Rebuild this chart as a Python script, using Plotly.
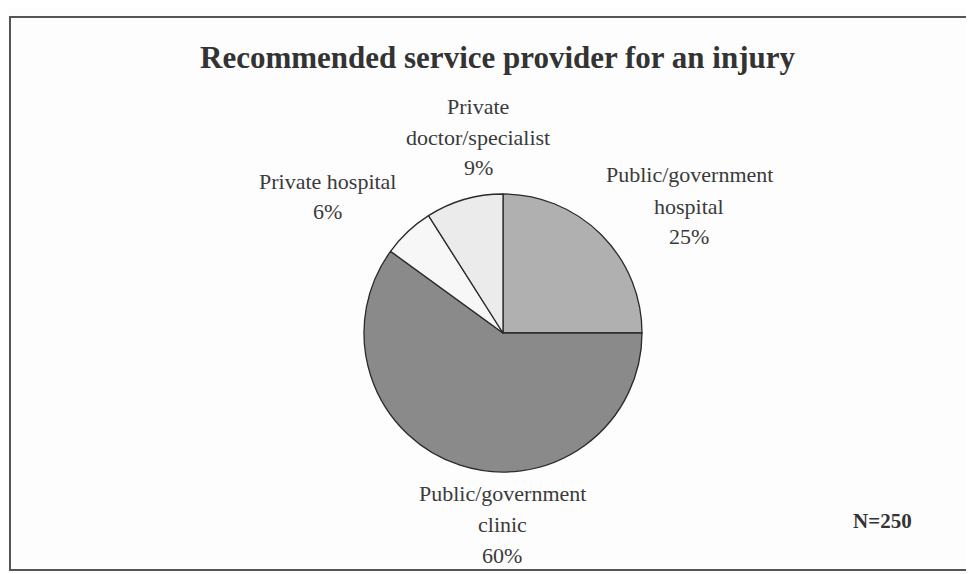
import plotly.graph_objects as go

labels = ["Public/government hospital", "Public/government clinic", "Private hospital", "Private doctor/specialist"]
values = [25, 60, 6, 9]
label_lines = [["Public/government", "hospital", "25%"],
               ["Public/government", "clinic", "60%"],
               ["Private hospital", "6%"],
               ["Private", "doctor/specialist", "9%"]]
colors = ["#b0b0b0", "#8a8a8a", "#f7f7f7", "#ebebeb"]

W, H = 974, 574
OFF = 8  # page body margin


def px(x):
    return (x - OFF) / W


def py(y):
    return 1 - (y - OFF) / H


fig = go.Figure()
cx, cy, r = 503, 333, 139
fig.add_trace(go.Pie(
    labels=labels, values=values, sort=False, direction="clockwise", rotation=0,
    marker=dict(colors=colors, line=dict(color="#2a2a2a", width=1.3)),
    textinfo="none", hoverinfo="label+percent", showlegend=False,
    domain=dict(x=[px(cx - r), px(cx + r)], y=[py(cy + r), py(cy - r)]),
))

font_fam = "Liberation Serif"
pos = [(689, 175), (502, 493), (327, 181), (478, 106)]
for lines, (x, y0) in zip(label_lines, pos):
    for i, t in enumerate(lines):
        fig.add_annotation(x=px(x), y=py(y0 + 31 * i), xref="paper", yref="paper", text=t, showarrow=False,
                           font=dict(family=font_fam, size=22, color="#3a3a3a"),
                           xanchor="center", yanchor="middle")

fig.add_annotation(x=px(497), y=py(58), xref="paper", yref="paper",
                   text="<b>Recommended service provider for an injury</b>", showarrow=False,
                   font=dict(family=font_fam, size=31, color="#333333"), xanchor="center", yanchor="middle")
fig.add_annotation(x=px(882), y=py(521), xref="paper", yref="paper", text="<b>N=250</b>",
                   showarrow=False, font=dict(family=font_fam, size=21, color="#333333"),
                   xanchor="center", yanchor="middle")

fig.add_shape(type="rect", xref="paper", yref="paper", x0=px(10), x1=px(1000), y0=py(570), y1=py(17),
              line=dict(color="#555555", width=2))

fig.update_layout(width=W, height=H, margin=dict(l=0, r=0, t=0, b=0),
                  paper_bgcolor="#fdfdfd", plot_bgcolor="#fdfdfd")
fig.write_html("out.html")
